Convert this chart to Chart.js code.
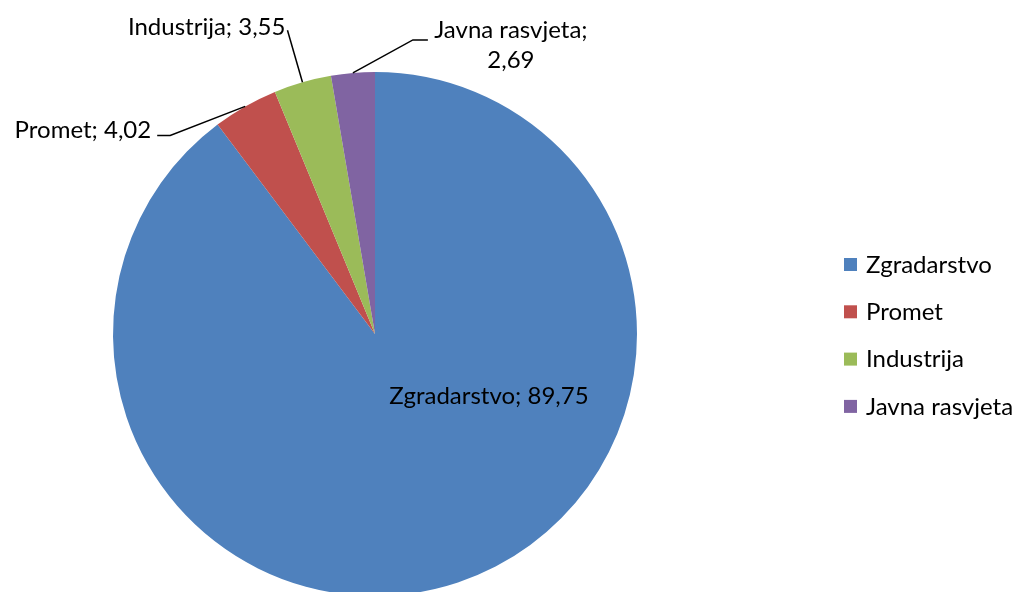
<!DOCTYPE html>
<html>
<head>
<meta charset="utf-8">
<script src="https://cdn.jsdelivr.net/npm/chart.js@4.4.0/dist/chart.umd.min.js"></script>
<style>
  html, body { margin: 0; padding: 0; background: #fff; overflow: hidden; }
  #wrap { position: relative; width: 1019px; height: 592px; overflow: hidden; }
  #box { position: absolute; left: 0; top: 0; width: 1019px; height: 668px; }
</style>
</head>
<body>
<div id="wrap"><div id="box"><canvas id="chart-pie"></canvas></div></div>
<script>
const LABELS = ['Zgradarstvo', 'Promet', 'Industrija', 'Javna rasvjeta'];
const VALUES = [89.75, 4.02, 3.55, 2.69];
const COLORS = ['#4F81BD', '#C0504D', '#9BBB59', '#8064A2'];

const FONT = '"Lato", "Open Sans", sans-serif';
const fmt = v => v.toFixed(2).replace('.', ',');

// where each data label goes, relative to the slice (elbow / text offsets from arc edge)
const LABEL_POS = [
  { inside: true, dx: 0.435, dy: 0.237 },
  { elbow: [-75, 29], end: [-88, 29], text: [-94, 24], align: 'right' },
  { elbow: [-15, -52], end: [-15, -52], text: [-17, -55], align: 'right' },
  { elbow: [60, -33], end: [75, -33], text: [158, -43], align: 'center', wrap: true },
];

const labelPlugin = {
  id: 'pieLabels',
  afterDraw(chart) {
    const ctx = chart.ctx;
    const arcs = chart.getDatasetMeta(0).data;
    ctx.save();
    ctx.font = '24px ' + FONT;
    ctx.textBaseline = 'middle';
    ctx.fillStyle = '#000';
    ctx.strokeStyle = '#000';
    ctx.lineWidth = 1.5;
    arcs.forEach((a, i) => {
      const p = LABEL_POS[i];
      const txt = LABELS[i] + '; ' + fmt(VALUES[i]);
      if (p.inside) {
        ctx.textAlign = 'center';
        ctx.fillText(txt, a.x + p.dx * a.outerRadius, a.y + p.dy * a.outerRadius);
        return;
      }
      const mid = (a.startAngle + a.endAngle) / 2;
      const ax = a.x + Math.cos(mid) * a.outerRadius;
      const ay = a.y + Math.sin(mid) * a.outerRadius;
      ctx.beginPath();
      ctx.moveTo(ax, ay);
      ctx.lineTo(ax + p.elbow[0], ay + p.elbow[1]);
      ctx.lineTo(ax + p.end[0], ay + p.end[1]);
      ctx.stroke();
      ctx.textAlign = p.align;
      const tx = ax + p.text[0], ty = ay + p.text[1];
      if (p.wrap) {
        ctx.fillText(LABELS[i] + ';', tx, ty);
        ctx.fillText(fmt(VALUES[i]), tx, ty + 30);
      } else {
        ctx.fillText(txt, tx, ty);
      }
    });

    // legend on the right
    ctx.textAlign = 'left';
    LABELS.forEach((l, i) => {
      const y = 265 + i * 47.3;
      ctx.fillStyle = COLORS[i];
      ctx.fillRect(844, y - 7, 13, 13);
      ctx.fillStyle = '#000';
      ctx.fillText(l, 866, y);
    });
    ctx.restore();
  },
};

new Chart(document.getElementById('chart-pie').getContext('2d'), {
  type: 'pie',
  data: {
    labels: LABELS,
    datasets: [{ data: VALUES, backgroundColor: COLORS, borderWidth: 0 }],
  },
  options: {
    responsive: true, maintainAspectRatio: false,
    animation: false,
    layout: { padding: { left: 113, right: 382, top: 72, bottom: 72 } },
    plugins: { legend: { display: false }, tooltip: { enabled: false } },
  },
  plugins: [labelPlugin],
});
</script>
</body>
</html>
